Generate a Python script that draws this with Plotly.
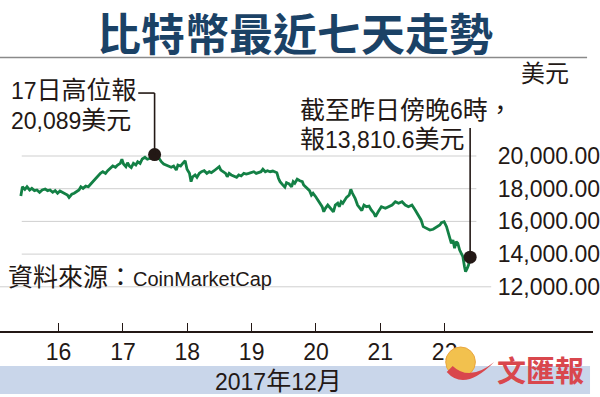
import plotly.graph_objects as go
import pandas as pd

# ---------------- data ----------------
hours_since_dec15 = [
    9.9, 10.5, 11.4, 12.2, 13.2, 14.0, 15.0, 15.9, 16.9, 17.9,
    19.0, 19.9, 20.8, 21.8, 22.7, 23.6, 24.5, 25.5, 26.5, 27.3,
    27.9, 28.9, 29.8, 30.6, 31.6, 32.3, 33.1, 34.1, 35.1, 35.9,
    36.8, 37.8, 38.6, 39.6, 40.5, 41.5, 42.3, 43.3, 44.2, 45.2,
    46.0, 47.0, 47.6, 48.2, 49.1, 49.7, 50.4, 51.1, 51.9, 52.8,
    53.5, 54.4, 55.2, 56.2, 57.1, 58.1, 58.9, 59.8, 61.1, 62.3,
    63.2, 64.2, 65.1, 66.0, 66.9, 67.9, 68.5, 69.5, 70.3, 71.2,
    71.9, 72.8, 73.4, 74.0, 74.9, 75.6, 76.5, 77.3, 78.3, 79.3,
    80.2, 81.0, 82.0, 83.0, 83.9, 84.5, 85.5, 86.3, 86.9, 87.6,
    88.4, 89.4, 90.4, 91.2, 92.1, 93.1, 94.0, 94.9, 95.8, 96.8,
    97.7, 98.6, 99.5, 100.2, 101.1, 101.9, 102.9, 103.9, 104.7, 105.4,
    106.0, 106.6, 107.6, 108.4, 109.0, 110.0, 110.9, 111.5, 112.1, 113.0,
    114.0, 114.9, 115.4, 116.2, 117.0, 117.6, 118.3, 118.9, 119.9, 120.7,
    121.6, 122.3, 122.9, 123.5, 124.4, 125.0, 125.6, 126.5, 127.2, 128.1,
    128.7, 129.4, 130.0, 130.5, 131.4, 132.4, 133.0, 133.6, 134.6, 135.5,
    136.3, 137.1, 137.9, 138.8, 139.8, 140.6, 141.6, 142.2, 143.2, 144.4,
    145.9, 147.1, 148.4, 149.6, 150.8, 152.1, 153.3, 154.5, 155.8, 157.0,
    158.2, 159.2, 160.0, 161.3, 162.5, 163.7, 165.0, 166.2, 166.8, 167.8,
    168.7, 169.3, 169.9, 170.5, 171.1, 171.7, 172.3, 172.9, 173.6, 174.2,
    174.8, 175.4, 175.8, 176.4, 176.9, 177.5,
]
prices_usd = [
    17550, 18120, 17960, 18120, 17920, 18020, 17880, 17920, 17780, 17920,
    17980, 17880, 17920, 17780, 17880, 17720, 17860, 17760, 17660, 17610,
    17470, 17660, 17720, 17820, 17920, 18120, 18020, 18160, 18120, 18270,
    18430, 18640, 18780, 18940, 19040, 18940, 19100, 19250, 19390, 19310,
    19450, 19550, 19800, 19510, 19350, 19590, 19390, 19290, 19550, 19450,
    19650, 19550, 19820, 19920, 19800, 19860, 19960, 20089, 19960, 19650,
    19510, 19450, 19390, 19310, 19390, 19140, 19450, 19390, 19550, 19710,
    19190, 18940, 18430, 18730, 18840, 18700, 18940, 19040, 19100, 18940,
    19040, 18980, 19100, 19250, 19350, 19140, 19040, 18940, 18730, 18940,
    18840, 18780, 18700, 18840, 18780, 18940, 18900, 18940, 18980, 19040,
    18940, 18980, 19040, 19190, 19040, 19100, 19040, 19080, 19040, 18980,
    18640, 18430, 18230, 18090, 18370, 18290, 18120, 18430, 18330, 18580,
    18490, 18430, 18230, 18120, 18020, 17880, 17610, 17720, 17510, 17310,
    17060, 16900, 16590, 16800, 17000, 16900, 16800, 16590, 17000, 17110,
    16900, 17200, 17110, 17270, 17470, 17610, 17960, 17720, 17410, 17000,
    16800, 16660, 17000, 16900, 16940, 16700, 16500, 16290, 16590, 16900,
    16800, 16900, 17000, 17200, 17110, 17200, 17000, 16900, 17000, 16700,
    16390, 16090, 15680, 15580, 15470, 15520, 15680, 15780, 15920, 15980,
    15680, 15370, 14970, 14660, 14860, 14360, 14760, 14660, 14250, 14050,
    13840, 13230, 12920, 13130, 13330, 13810,
]
y_tick_values = [12000, 14000, 16000, 18000, 20000]
x_tick_days = ["2017-12-16", "2017-12-17", "2017-12-18", "2017-12-19",
               "2017-12-20", "2017-12-21", "2017-12-22"]
x_tick_labels = ["16", "17", "18", "19", "20", "21", "22"]

title_text = "比特幣最近七天走勢"
unit_text = "美元"
peak_text = ["17日高位報", "20,089美元"]
last_text = ["截至昨日傍晚6時，", "報13,810.6美元"]
source_text = "資料來源：CoinMarketCap"
month_text = "2017年12月"
logo_text = "文匯報"

# ---------------- styling ----------------
W, H = 600, 397
T, B = 57, 331          # plot area top / bottom in pixels
GREEN = "#138045"
DARK = "#231815"
NAVY = "#1b4266"
GRID = "#cfcfcf"
FONT = "Liberation Sans, Arial, Noto Sans CJK TC"
CJK = "Noto Sans CJK TC"
LATIN_SIZE = 23
CJK_SIZE = 25


def py(y):
    return (B - y) / (B - T)


def px(x):
    return x / W


def mixed(text, cjk_size=CJK_SIZE):
    """Wrap runs of CJK characters in a larger font-size span."""
    out, run, is_cjk = [], "", None
    for ch in text:
        c = ord(ch) >= 0x2E80
        if is_cjk is not None and c != is_cjk:
            out.append(f"<span style='font-size:{cjk_size}px'>{run}</span>" if is_cjk else run)
            run = ""
        run += ch
        is_cjk = c
    if run:
        out.append(f"<span style='font-size:{cjk_size}px'>{run}</span>" if is_cjk else run)
    return "".join(out)


times = pd.Timestamp("2017-12-15") + pd.to_timedelta(hours_since_dec15, unit="h")
peak_i = prices_usd.index(max(prices_usd))

fig = go.Figure()
fig.add_trace(go.Scatter(
    x=times, y=prices_usd, mode="lines",
    line=dict(color=GREEN, width=2.8), hoverinfo="skip", showlegend=False))
fig.add_trace(go.Scatter(
    x=[times[peak_i], times[-1]], y=[prices_usd[peak_i], prices_usd[-1]],
    mode="markers", marker=dict(size=13, color=DARK),
    hoverinfo="skip", showlegend=False))

shapes = []
for v in y_tick_values:
    shapes.append(dict(type="line", xref="paper", yref="y",
                       x0=px(0 if v == 12000 else 22), x1=px(497 if v == 12000 else 482),
                       y0=v, y1=v, line=dict(color=GRID, width=1), layer="below"))
lead1_top = 23850
lead2_top = 21710
shapes.append(dict(type="line", xref="x", yref="y",
                   x0=times[peak_i] - pd.Timedelta(hours=6.1), x1=times[peak_i],
                   y0=lead1_top, y1=lead1_top, line=dict(color=DARK, width=1.6)))
shapes.append(dict(type="line", xref="x", yref="y",
                   x0=times[peak_i], x1=times[peak_i],
                   y0=lead1_top, y1=prices_usd[peak_i], line=dict(color=DARK, width=1.6)))
shapes.append(dict(type="line", xref="x", yref="y",
                   x0=times[-1], x1=times[-1],
                   y0=lead2_top, y1=prices_usd[-1], line=dict(color=DARK, width=1.6)))
shapes.append(dict(type="line", xref="paper", yref="paper",
                   x0=0, x1=px(594), y0=py(57.5), y1=py(57.5),
                   line=dict(color="#8a8a8a", width=1.5)))
shapes.append(dict(type="rect", xref="paper", yref="paper",
                   x0=0, x1=px(597), y0=py(394), y1=py(366),
                   fillcolor="#c9d6ea", line=dict(width=0), layer="below"))
shapes.append(dict(type="circle", xref="paper", yref="paper",
                   x0=px(451), x1=px(481), y0=py(377), y1=py(347),
                   fillcolor="#f2c14e", line=dict(color="#eaa640", width=1)))
shapes.append(dict(type="path", xref="paper", yref="paper",
                   path=f"M {px(452)} {py(372)} Q {px(470)} {py(392)} {px(500)} {py(362)} "
                        f"Q {px(475)} {py(382)} {px(458)} {py(366)} Z",
                   fillcolor="#d9474d", line=dict(width=0)))


def note(text, x, y, anchor="left", size=LATIN_SIZE):
    return dict(text=mixed(text), x=px(x), y=py(y), xref="paper", yref="paper",
                showarrow=False, xanchor=anchor, yanchor="middle",
                font=dict(family=FONT, size=size, color=DARK))


annotations = [
    dict(text=f"<b>{title_text}</b>", x=px(298), y=py(32), xref="paper", yref="paper",
         showarrow=False, xanchor="center", yanchor="middle",
         font=dict(family=CJK, size=44, color=NAVY, weight=900)),
    dict(text=unit_text, x=px(525), y=py(73), xref="paper", yref="paper",
         showarrow=False, xanchor="left", yanchor="middle",
         font=dict(family=FONT, size=24, color=DARK)),
    note(peak_text[0], 9, 90),
    note(peak_text[1], 9, 120),
    note(last_text[0], 302, 110),
    note(last_text[1], 302, 139),
    dict(text=mixed("資料來源：") + "<span style='font-size:20px'>CoinMarketCap</span>",
         x=px(6), y=py(277), xref="paper", yref="paper",
         showarrow=False, xanchor="left", yanchor="middle",
         font=dict(family=FONT, size=LATIN_SIZE, color=DARK)),
    note(month_text, 282, 381, anchor="center"),
    dict(text=f"<b>{logo_text}</b>", x=px(547), y=py(369), xref="paper", yref="paper",
         showarrow=False, xanchor="center", yanchor="middle",
         font=dict(family=CJK, size=29, color="#d9474d")),
]

fig.update_layout(
    width=W, height=H,
    margin=dict(l=0, r=0, t=T, b=H - B, pad=0),
    paper_bgcolor="white", plot_bgcolor="white",
    shapes=shapes, annotations=annotations, showlegend=False,
    xaxis=dict(
        range=[pd.Timestamp("2017-12-15 02:08"), pd.Timestamp("2017-12-24 07:20")],
        tickvals=pd.to_datetime(x_tick_days), ticktext=x_tick_labels,
        ticks="inside", ticklen=8, tickwidth=1.2, tickcolor=DARK,
        showline=True, linecolor=DARK, linewidth=1.5,
        showgrid=False, zeroline=False, fixedrange=True,
        tickfont=dict(family=FONT, size=LATIN_SIZE, color=DARK),
    ),
    yaxis=dict(
        range=[9297, 26055], side="right", ticklabelposition="inside",
        tickvals=y_tick_values, tickformat=",.2f", ticks="",
        showgrid=False, zeroline=False, showline=False, fixedrange=True,
        ticklabelstandoff=-10,
        tickfont=dict(family=FONT, size=LATIN_SIZE, color=DARK),
    ),
)

fig.write_html("out.html", config={"displayModeBar": False},
               post_script="document.body.style.margin='0px';")
